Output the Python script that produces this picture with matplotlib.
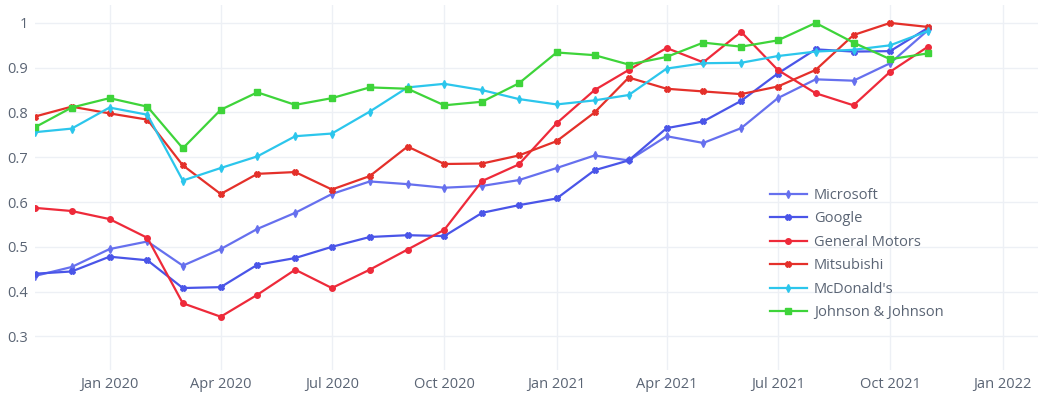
import matplotlib
matplotlib.use("Agg")
import matplotlib.pyplot as plt
import matplotlib.dates as mdates
import pandas as pd

# Monthly normalised prices, Nov 2019 - Nov 2021
dates = pd.date_range("2019-11-01", "2021-11-01", freq="MS")

microsoft = [0.435, 0.455, 0.495, 0.512, 0.458, 0.495, 0.540, 0.576, 0.618,
             0.646, 0.640, 0.632, 0.636, 0.649, 0.676, 0.704, 0.693, 0.747,
             0.732, 0.765, 0.832, 0.874, 0.871, 0.910, 0.984]
google = [0.440, 0.445, 0.478, 0.470, 0.408, 0.410, 0.460, 0.475, 0.500,
          0.522, 0.526, 0.524, 0.576, 0.593, 0.608, 0.671, 0.693, 0.765,
          0.780, 0.826, 0.887, 0.941, 0.936, 0.937, 0.989]
general_motors = [0.587, 0.580, 0.562, 0.520, 0.374, 0.344, 0.393, 0.449, 0.408,
                  0.449, 0.494, 0.538, 0.647, 0.684, 0.776, 0.850, 0.895, 0.944,
                  0.912, 0.980, 0.895, 0.843, 0.816, 0.891, 0.947]
mitsubishi = [0.791, 0.813, 0.798, 0.784, 0.682, 0.618, 0.663, 0.667, 0.628,
              0.658, 0.724, 0.685, 0.686, 0.704, 0.736, 0.800, 0.878, 0.853,
              0.847, 0.841, 0.858, 0.895, 0.973, 1.000, 0.991]
mcdonalds = [0.756, 0.764, 0.811, 0.795, 0.648, 0.676, 0.702, 0.747, 0.753,
             0.802, 0.856, 0.864, 0.850, 0.830, 0.818, 0.827, 0.839, 0.898,
             0.910, 0.911, 0.926, 0.936, 0.940, 0.950, 0.982]
johnson = [0.767, 0.811, 0.832, 0.813, 0.720, 0.806, 0.845, 0.817, 0.832,
           0.856, 0.853, 0.816, 0.824, 0.865, 0.934, 0.928, 0.907, 0.924,
           0.956, 0.947, 0.961, 1.000, 0.956, 0.919, 0.932]

names = ["Microsoft", "Google", "General Motors", "Mitsubishi", "McDonald's", "Johnson & Johnson"]
series = [microsoft, google, general_motors, mitsubishi, mcdonalds, johnson]
colors = ["#6670ee", "#4a55e8", "#ee2a3a", "#e4302a", "#2cc6ec", "#3ed43a"]
markers = ["d", "X", "o", "X", "d", "s"]

plt.rcParams["font.family"] = ["Open Sans", "DejaVu Sans"]

fig = plt.figure(figsize=(10.43, 3.93), dpi=100)
ax = fig.add_axes([35 / 1043, 1 - 370 / 393, 1003 / 1043, 365 / 393])

for name, vals, c, m in zip(names, series, colors, markers):
    ax.plot(dates, vals, color=c, marker=m, markersize=4, linewidth=1.6, label=name)

ax.set_xlim(pd.Timestamp("2019-11-01"), pd.Timestamp("2022-01-30"))
ax.set_ylim(0.225, 1.04)
ax.set_yticks([0.3, 0.4, 0.5, 0.6, 0.7, 0.8, 0.9, 1.0])
ax.set_yticklabels(["0.3", "0.4", "0.5", "0.6", "0.7", "0.8", "0.9", "1"])
ax.xaxis.set_major_locator(mdates.MonthLocator(bymonth=[1, 4, 7, 10]))
ax.xaxis.set_major_formatter(mdates.DateFormatter("%b %Y"))

ax.grid(True, color="#edf0f5", linewidth=1)
ax.set_axisbelow(True)
for s in ax.spines.values():
    s.set_visible(False)
ax.tick_params(length=0, labelsize=10.5, colors="#5a6474", pad=5)

leg = ax.legend(loc="upper left", bbox_to_anchor=(722 / 1003, 0.535), frameon=False,
                fontsize=10.5, labelcolor="#5a6474", handlelength=2.5, labelspacing=0.58,
                handletextpad=0.5)

fig.savefig("out.png", dpi=100)
